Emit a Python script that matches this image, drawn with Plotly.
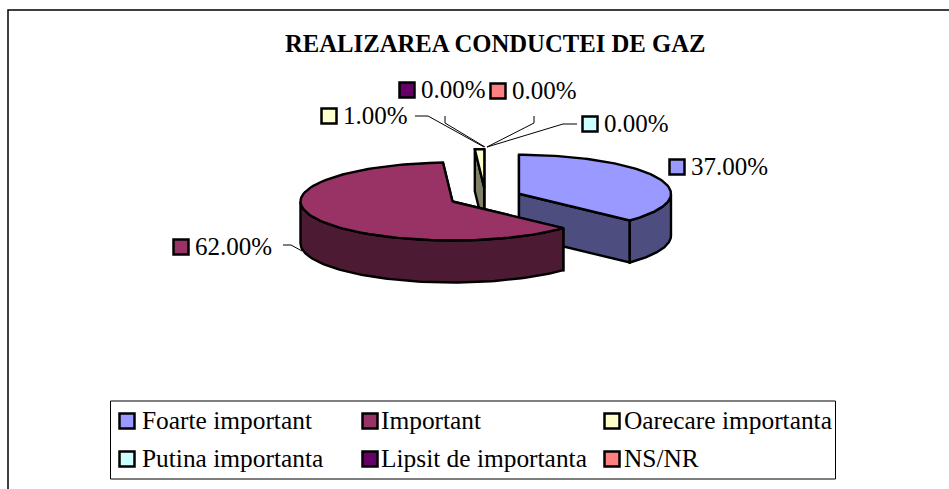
import numpy as np
import plotly.graph_objects as go

title = "REALIZAREA CONDUCTEI DE GAZ"
categories = ["Foarte important", "Important", "Oarecare importanta",
              "Putina importanta", "Lipsit de importanta", "NS/NR"]
values = [37.0, 62.0, 1.0, 0.0, 0.0, 0.0]
top_colors = ["#9999FF", "#993366", "#FFFFCC", "#CCFFFF", "#660066", "#FF8080"]
side_colors = ["#4D4D80", "#4D1A33", "#808066", "#668080", "#330033", "#804040"]

FONT = "Liberation Serif"
W, H = 949, 489
CX, CY, A, B, DEPTH, EXPLODE = 485.5, 197.5, 152, 39, 42, 0.24


def pt(c, deg):
    r = np.radians(deg)
    return c[0] + A * np.sin(r), c[1] - B * np.cos(r)


fig = go.Figure()


def poly(xs, ys, color, width=2.4):
    fig.add_trace(go.Scatter(x=list(xs) + [xs[0]], y=list(ys) + [ys[0]], mode="lines",
                             fill="toself", fillcolor=color,
                             line=dict(color="black", width=width),
                             hoverinfo="skip", showlegend=False))


def line(xs, ys, width=1):
    fig.add_trace(go.Scatter(x=xs, y=ys, mode="lines", line=dict(color="black", width=width),
                             hoverinfo="skip", showlegend=False))


def slice3d(i, a0, a1):
    mid = np.radians((a0 + a1) / 2)
    c = (CX + A * EXPLODE * np.sin(mid), CY - B * EXPLODE * np.cos(mid))
    t = np.linspace(a0, a1, 90)
    ex, ey = pt(c, t)
    poly([c[0], ex[0], ex[0], c[0]], [c[1], ey[0], ey[0] + DEPTH, c[1] + DEPTH], side_colors[i])
    poly([c[0], ex[-1], ex[-1], c[0]], [c[1], ey[-1], ey[-1] + DEPTH, c[1] + DEPTH], side_colors[i])
    lo, hi = max(a0, 90), min(a1, 270)
    if lo < hi:
        u = np.linspace(lo, hi, 90)
        ox, oy = pt(c, u)
        poly(list(ox) + list(ox[::-1]), list(oy) + list((oy + DEPTH)[::-1]), side_colors[i])
    poly([c[0]] + list(ex), [c[1]] + list(ey), top_colors[i])
    return c


total = sum(values)
angles = np.cumsum([0] + values) / total * 360
for i in [2, 0, 1]:
    slice3d(i, angles[i], angles[i + 1])

# leader lines
line([283, 291, 302], [245, 245, 251])
line([415, 428, 484], [116, 116, 147])
line([445, 445, 485], [116, 123, 147])
line([534, 534, 487], [116, 123, 147])
line([577, 563, 487], [124, 124, 147])

# data labels: swatch + text
label_x = [677, 181, 329, 590, 407, 498]
label_y = [167, 247, 116, 124, 90, 91]
idx_order = range(len(values))
fig.add_trace(go.Scatter(x=label_x, y=label_y, mode="markers",
                         marker=dict(symbol="square", size=15, color=top_colors,
                                     line=dict(color="black", width=2.5)),
                         hoverinfo="skip", showlegend=False))
fig.add_trace(go.Scatter(x=[v + 14 for v in label_x], y=[v + 1.5 for v in label_y], mode="text",
                         text=[f"{v:.2f}%" for v in values], textposition="middle right",
                         textfont=dict(family=FONT, size=25, color="black"),
                         hoverinfo="skip", showlegend=False))

# legend swatches + labels
leg_x = [127, 370, 612]
leg_text_x = [142, 381, 624]
leg_y = [421, 459]
lx = [leg_x[i % 3] for i in idx_order]
ltx = [leg_text_x[i % 3] for i in idx_order]
ly = [leg_y[i // 3] for i in idx_order]
fig.add_trace(go.Scatter(x=lx, y=ly, mode="markers",
                         marker=dict(symbol="square", size=15, color=top_colors,
                                     line=dict(color="black", width=2.5)),
                         hoverinfo="skip", showlegend=False))
fig.add_trace(go.Scatter(x=ltx, y=[v + 2 for v in ly], mode="text", text=categories,
                         textposition="middle right",
                         textfont=dict(family=FONT, size=25.4, color="black"),
                         hoverinfo="skip", showlegend=False))

fig.update_layout(
    width=W, height=H, margin=dict(l=0, r=0, t=0, b=0, pad=0),
    paper_bgcolor="white", plot_bgcolor="white", showlegend=False,
    xaxis=dict(range=[0, W], visible=False, fixedrange=True),
    yaxis=dict(range=[H, 0], visible=False, fixedrange=True),
    annotations=[dict(x=495, y=43.5, xref="x", yref="y", text=f"<b>{title}</b>", showarrow=False,
                      font=dict(family=FONT, size=24.7, color="black"))],
    shapes=[
        dict(type="path", path=f"M 8 {H} L 8 10 L {W} 10", line=dict(color="black", width=1.5), layer="below"),
        dict(type="rect", x0=110.5, y0=401, x1=835.5, y1=479, line=dict(color="black", width=1),
             fillcolor="white", layer="below"),
    ],
)
fig.write_html("out.html", config=dict(displayModeBar=False),
               post_script="document.body.style.margin='0';document.documentElement.style.overflow='hidden';")
